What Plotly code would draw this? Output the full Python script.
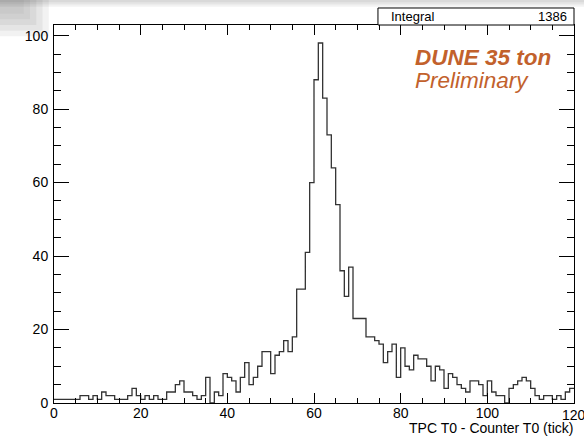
import numpy as np
import plotly.graph_objects as go

# Histogram contents: 120 bins of width 1 tick, from 0 to 120
bin_lo = 0
bin_hi = 120
counts = [
    1, 1, 1, 1, 1, 1, 2, 2, 1, 2,
    1, 3, 2, 2, 1, 1, 1, 2, 4, 2,
    1, 2, 1, 2, 1, 1, 3, 3, 5, 6,
    3, 3, 2, 1, 2, 7, 0, 3, 2, 8,
    7, 6, 3, 7, 11, 5, 7, 10, 14, 14,
    8, 13, 14, 17, 14, 18, 31, 31, 41, 60,
    88, 98, 83, 73, 64, 54, 36, 29, 37, 23,
    23, 23, 18, 18, 17, 16, 11, 14, 16, 7,
    15, 10, 9, 13, 12, 12, 10, 6, 10, 9,
    4, 8, 7, 5, 4, 3, 6, 6, 5, 2,
    6, 3, 2, 2, 0, 4, 5, 6, 7, 6,
    4, 2, 1, 2, 2, 1, 2, 1, 3, 4,
]
x_ticks = [0, 20, 40, 60, 80, 100, 120]
x_title = "TPC T0 - Counter T0 (tick)"
label_main = "DUNE 35 ton"
label_sub = "Preliminary"

edges = np.linspace(bin_lo, bin_hi, len(counts) + 1)
step_y = list(counts) + [counts[-1]]
integral = int(sum(counts))
ymax = 1.05 * max(counts)

FONT = "Liberation Sans, Arial, Helvetica, sans-serif"
ORANGE = "#c2612c"

fig = go.Figure()
fig.add_trace(go.Scatter(
    x=edges, y=step_y, mode="lines", line_shape="hv",
    line=dict(color="#333333", width=1.3),
    hoverinfo="skip", showlegend=False,
))

axis_common = dict(
    showgrid=False, zeroline=False, showline=True, linecolor="black",
    linewidth=1, mirror="ticks", ticks="inside", tickcolor="black",
    tickwidth=1, tickfont=dict(family=FONT, size=14, color="black"),
)

fig.update_xaxes(
    range=[bin_lo, bin_hi], tickvals=x_ticks[:-1], ticklen=10,
    minor=dict(dtick=5, tick0=0, ticklen=5, ticks="inside",
               tickcolor="black"),
    ticklabelstandoff=-3,
    **axis_common,
)
fig.update_yaxes(
    range=[0, ymax], dtick=20, tick0=0, ticklen=15,
    minor=dict(dtick=5, ticklen=7, ticks="inside", tickcolor="black"),
    ticklabelstandoff=2,
    **axis_common,
)

# Last x tick label sits on the frame edge and runs off the page
fig.add_annotation(xref="x", yref="paper", x=x_ticks[-1], y=-0.004,
                   text=str(x_ticks[-1]), showarrow=False,
                   xanchor="center", yanchor="top",
                   font=dict(family=FONT, size=14, color="black"))

# Faint shadow along the top edge and in the top-left corner of the page
for i, op in enumerate([0.05, 0.05, 0.05, 0.05]):
    fig.add_shape(type="rect", xref="paper", yref="paper", layer="below",
                  x0=-0.2, x1=1.1, y0=1.066 - 0.006 * i, y1=1.2,
                  line_width=0, fillcolor="black", opacity=op)
for i, op in enumerate([0.05, 0.05, 0.05, 0.04, 0.03]):
    fig.add_shape(type="rect", xref="paper", yref="paper", layer="below",
                  x0=-0.2, x1=-0.01 - 0.012 * i, y0=0.97 + 0.015 * i,
                  y1=1.2, line_width=0, fillcolor="black", opacity=op)

# Stats box above the frame
fig.add_shape(type="rect", xref="paper", yref="paper",
              x0=0.623, x1=1.0, y0=1.0, y1=1.045,
              line=dict(color="black", width=1), fillcolor="white")
fig.add_annotation(xref="paper", yref="paper", x=0.645, y=1.0225,
                   text="Integral", showarrow=False, xanchor="left",
                   yanchor="middle",
                   font=dict(family=FONT, size=13, color="black"))
fig.add_annotation(xref="paper", yref="paper", x=0.99, y=1.0225,
                   text=str(integral), showarrow=False, xanchor="right",
                   yanchor="middle",
                   font=dict(family=FONT, size=13, color="black"))

# Experiment label
fig.add_annotation(xref="paper", yref="paper", x=0.690, y=0.915,
                   text="<b><i>" + label_main + "</i></b>", showarrow=False,
                   xanchor="left", yanchor="middle",
                   font=dict(family=FONT, size=22.5, color=ORANGE))
fig.add_annotation(xref="paper", yref="paper", x=0.690, y=0.853,
                   text="<i>" + label_sub + "</i>", showarrow=False,
                   xanchor="left", yanchor="middle",
                   font=dict(family=FONT, size=22.5, color=ORANGE))

# X-axis title flush right under the axis
fig.add_annotation(xref="paper", yref="paper", x=1.0, y=-0.065,
                   text=x_title, showarrow=False, xanchor="right",
                   yanchor="middle", borderpad=0,
                   font=dict(family=FONT, size=14, color="black"))

fig.update_layout(
    width=584, height=436,
    margin=dict(l=54, r=10, t=25, b=33),
    paper_bgcolor="white", plot_bgcolor="white",
)

fig.write_html("out.html")
